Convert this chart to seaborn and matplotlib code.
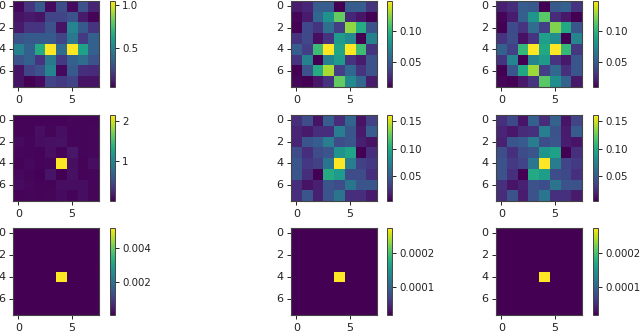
import matplotlib
matplotlib.use("Agg")
import matplotlib.pyplot as plt
import seaborn as sns

x_tick_labels = ["0", "5"]
y_tick_labels = ["0", "2", "4", "6"]

m00 = [[.07,.20,.33,.08,.28,.08,.30,.15],
       [.10,.12,.10,.25,.25,.30,.12,.06],
       [.12,.20,.20,.30,.10,.50,.33,.20],
       [.30,.33,.33,.33,.25,.45,.22,.35],
       [.48,.35,.65,1.047,.40,1.047,.62,.35],
       [.30,.35,.20,.45,.22,.35,.40,.30],
       [.10,.25,.30,.50,.07,.33,.18,.17],
       [.10,.05,.08,.25,.22,.25,.10,.10]]
m01 = [[.020,.025,.050,.050,.010,.050,.050,.030],
       [.012,.020,.055,.080,.115,.025,.018,.010],
       [.010,.040,.030,.060,.035,.125,.095,.045],
       [.030,.040,.015,.030,.085,.075,.010,.070],
       [.050,.035,.105,.148,.090,.148,.105,.030],
       [.030,.070,.010,.070,.085,.030,.020,.045],
       [.010,.045,.095,.130,.035,.055,.030,.045],
       [.012,.010,.018,.030,.115,.075,.055,.020]]
m02 = [[.022,.027,.050,.048,.010,.048,.052,.031],
       [.012,.021,.052,.082,.112,.027,.019,.010],
       [.010,.041,.031,.058,.036,.122,.093,.046],
       [.031,.042,.016,.031,.087,.077,.010,.072],
       [.052,.036,.102,.148,.092,.148,.102,.032],
       [.031,.072,.010,.072,.086,.031,.019,.046],
       [.010,.046,.092,.128,.036,.056,.029,.046],
       [.012,.010,.019,.031,.112,.077,.053,.019]]
m10 = [[.03,.03,.03,.03,.03,.05,.04,.04],
       [.03,.03,.09,.04,.09,.04,.04,.05],
       [.07,.04,.08,.10,.11,.04,.04,.05],
       [.05,.04,.03,.09,.03,.14,.04,.05],
       [.03,.06,.03,.04,2.15,.09,.03,.08],
       [.06,.04,.02,.12,.01,.10,.03,.04],
       [.07,.05,.03,.03,.08,.08,.08,.04],
       [.03,.04,.03,.04,.07,.03,.08,.04]]
m11 = [[.025,.040,.012,.050,.025,.055,.012,.035],
       [.020,.015,.025,.025,.070,.045,.015,.050],
       [.020,.045,.050,.070,.040,.045,.018,.012],
       [.040,.025,.040,.045,.085,.095,.0045,.025],
       [.045,.030,.035,.065,.161,.070,.035,.030],
       [.045,.025,.0045,.100,.090,.040,.040,.025],
       [.025,.012,.018,.045,.040,.065,.045,.045],
       [.025,.045,.018,.045,.065,.025,.025,.015]]
m12 = [[.026,.039,.013,.051,.024,.054,.013,.036],
       [.021,.014,.024,.026,.071,.044,.016,.049],
       [.019,.046,.049,.069,.041,.046,.017,.013],
       [.041,.026,.041,.046,.086,.094,.0045,.026],
       [.044,.031,.036,.066,.161,.069,.036,.031],
       [.044,.026,.0045,.099,.091,.041,.039,.026],
       [.026,.013,.019,.044,.041,.064,.044,.044],
       [.024,.044,.017,.044,.066,.026,.026,.016]]
m20 = [[.00002,.00002,.00002,.00002,.00002,.00002,.00002,.00002],
       [.00002,.00002,.00002,.00002,.00002,.00002,.00002,.00002],
       [.00002,.00002,.00002,.00002,.00002,.00002,.00002,.00002],
       [.00002,.00002,.00002,.00002,.00002,.00002,.00002,.00002],
       [.00002,.00002,.00002,.00002,.0052,.00002,.00002,.00002],
       [.00002,.00002,.00002,.00002,.00002,.00002,.00002,.00002],
       [.00002,.00002,.00002,.00002,.00002,.00002,.00002,.00002],
       [.00002,.00002,.00002,.00002,.00002,.00002,.00002,.00002]]
m21 = [[.000018,.000018,.000018,.000018,.000018,.000018,.000018,.000018],
       [.000018,.000018,.000018,.000018,.000018,.000018,.000018,.000018],
       [.000018,.000018,.000018,.000018,.000018,.000018,.000018,.000018],
       [.000018,.000018,.000018,.000018,.000018,.000018,.000018,.000018],
       [.000018,.000018,.000018,.000018,.000274,.000018,.000018,.000018],
       [.000018,.000018,.000018,.000018,.000018,.000018,.000018,.000018],
       [.000018,.000018,.000018,.000018,.000018,.000018,.000018,.000018],
       [.000018,.000018,.000018,.000018,.000018,.000018,.000018,.000018]]
m22 = m21

cb_ticks_00 = [0.5, 1.0]
cb_labels_00 = ["0.5", "1.0"]
cb_ticks_01 = [0.05, 0.10]
cb_labels_01 = ["0.05", "0.10"]
cb_ticks_10 = [1, 2]
cb_labels_10 = ["1", "2"]
cb_ticks_11 = [0.05, 0.10, 0.15]
cb_labels_11 = ["0.05", "0.10", "0.15"]
cb_ticks_20 = [0.002, 0.004]
cb_labels_20 = ["0.002", "0.004"]
cb_ticks_21 = [0.0001, 0.0002]
cb_labels_21 = ["0.0001", "0.0002"]

W, H = 640, 331
fig = plt.figure(figsize=(W / 100, H / 100), dpi=100)


def px_axes(x0, y0, x1, y1):
    return fig.add_axes([x0 / W, 1 - y1 / H, (x1 - x0) / W, (y1 - y0) / H])


columns = [(13, 99, 110, 115), (291, 377, 387, 392), (496, 582, 593, 598)]
rows = [(1, 87), (115, 201), (228, 315)]
panels = [
    [(m00, cb_ticks_00, cb_labels_00), (m01, cb_ticks_01, cb_labels_01), (m02, cb_ticks_01, cb_labels_01)],
    [(m10, cb_ticks_10, cb_labels_10), (m11, cb_ticks_11, cb_labels_11), (m12, cb_ticks_11, cb_labels_11)],
    [(m20, cb_ticks_20, cb_labels_20), (m21, cb_ticks_21, cb_labels_21), (m22, cb_ticks_21, cb_labels_21)],
]

for (y0, y1), row in zip(rows, panels):
    for (x0, x1, cx0, cx1), (mat, ticks, labels) in zip(columns, row):
        ax = px_axes(x0, y0, x1, y1)
        cax = px_axes(cx0, y0, cx1, y1)
        sns.heatmap(mat, ax=ax, cbar_ax=cax, cmap="viridis", square=False)
        ax.set_xticks([0.5, 5.5], x_tick_labels, rotation=0)
        ax.set_yticks([0.5, 2.5, 4.5, 6.5], y_tick_labels, rotation=0)
        ax.tick_params(labelsize=8, length=3, width=0.7, pad=2.5, colors="#222222")
        for s in ax.spines.values():
            s.set_visible(True)
            s.set_linewidth(0.8)
            s.set_color("#444444")
        cax.set_yticks(ticks, labels)
        cax.tick_params(labelsize=7.4, length=3, width=0.7, pad=2, colors="#222222")
        cbar = ax.collections[0].colorbar
        cbar.outline.set_linewidth(0.7)
        cbar.outline.set_edgecolor("#444444")

fig.savefig("out.png", dpi=100)
